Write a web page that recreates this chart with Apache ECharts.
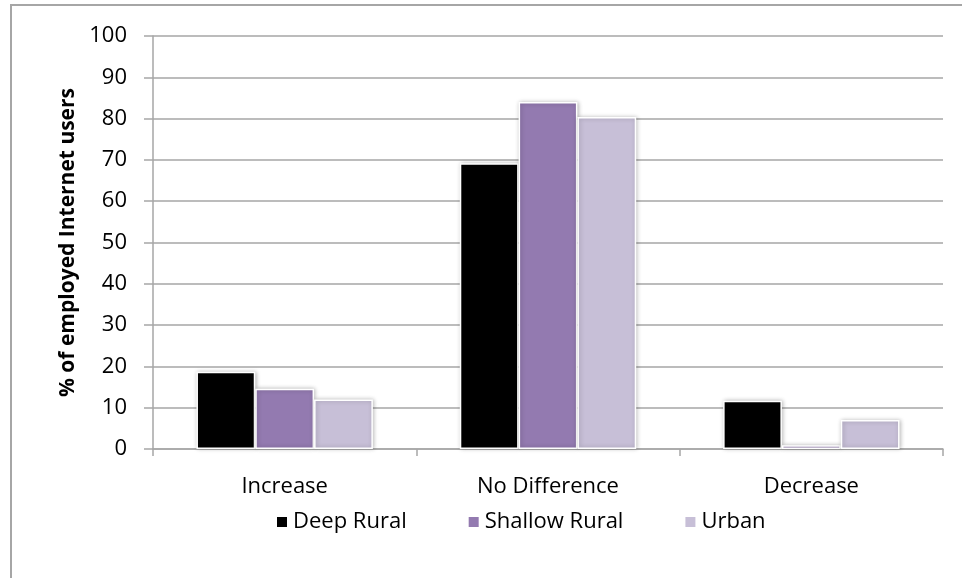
<!DOCTYPE html>
<html>
<head>
<meta charset="utf-8">
<script src="https://cdn.jsdelivr.net/npm/echarts@6/dist/echarts.min.js"></script>
<style>
html,body{margin:0;padding:0;background:#fff;}
#main{width:962px;height:578px;}
</style>
</head>
<body>
<div id="main"></div>
<script>
const categories = ['Increase', 'No Difference', 'Decrease'];
const seriesNames = ['Deep Rural', 'Shallow Rural', 'Urban'];
const deepRural = [18.7, 69.2, 11.7];
const shallowRural = [14.6, 84.0, 0.9];
const urban = [12.0, 80.4, 7.0];
const yTicks = [0, 10, 20, 30, 40, 50, 60, 70, 80, 90, 100];
const colors = ['#000000', '#937AB0', '#C7BFD7'];

const FONT = '"Open Sans", sans-serif';
const values = [deepRural, shallowRural, urban];

const chart = echarts.init(document.getElementById('main'), null, {renderer: 'canvas'});
chart.setOption({
  animation: false,
  backgroundColor: '#ffffff',
  graphic: [{
    type: 'rect',
    shape: {x: 11, y: 5, width: 1000, height: 1000},
    style: {fill: 'none', stroke: '#A6A6A6', lineWidth: 2},
    silent: true
  }],
  grid: {left: 153, right: 19, top: 36, bottom: 129, containLabel: false},
  legend: {
    data: seriesNames,
    left: 275,
    top: 511,
    padding: 0,
    icon: 'rect',
    itemWidth: 12,
    itemHeight: 12,
    itemGap: 60,
    textStyle: {fontFamily: FONT, fontSize: 22, color: '#000'}
  },
  xAxis: {
    type: 'category',
    data: categories,
    axisLine: {lineStyle: {color: '#A6A6A6', width: 1.5}},
    axisTick: {show: true, length: 7, lineStyle: {color: '#A6A6A6', width: 1.5}},
    axisLabel: {fontFamily: FONT, fontSize: 22, color: '#000', margin: 27}
  },
  yAxis: {
    type: 'value',
    min: yTicks[0],
    max: yTicks[yTicks.length - 1],
    interval: 10,
    name: '% of employed Internet users',
    nameLocation: 'middle',
    nameGap: 74,
    nameTextStyle: {fontFamily: FONT, fontSize: 21, fontWeight: 'bold', color: '#000'},
    axisLine: {show: true, lineStyle: {color: '#A6A6A6', width: 1.5}},
    axisTick: {show: true, length: 9, lineStyle: {color: '#A6A6A6', width: 1.5}},
    axisLabel: {fontFamily: FONT, fontSize: 22, color: '#000', margin: 26},
    splitLine: {show: true, lineStyle: {color: '#A6A6A6', width: 1.5}}
  },
  series: seriesNames.map((name, i) => ({
    name: name,
    type: 'bar',
    data: values[i],
    barGap: '0%',
    barCategoryGap: '33%',
    itemStyle: {
      color: colors[i],
      borderColor: '#ffffff',
      borderWidth: 1.5,
      shadowColor: 'rgba(0,0,0,0.25)',
      shadowBlur: 4,
      shadowOffsetX: 1,
      shadowOffsetY: 0
    }
  }))
});
</script>
</body>
</html>
